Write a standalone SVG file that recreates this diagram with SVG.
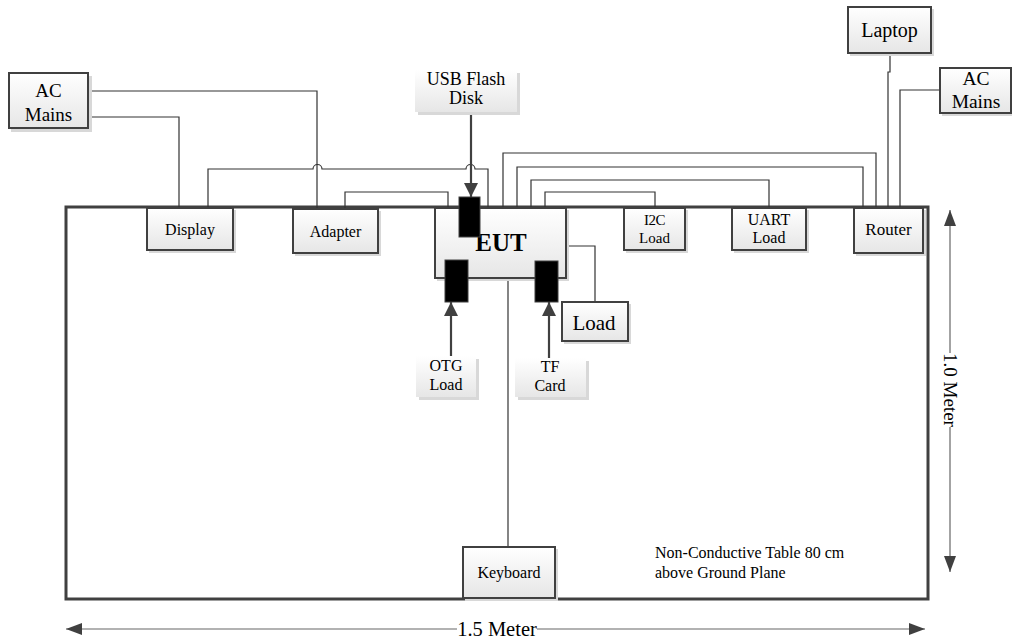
<svg xmlns="http://www.w3.org/2000/svg" width="1012" height="639" viewBox="0 0 1012 639" font-family="'Liberation Serif', 'Times New Roman', 'DejaVu Serif', serif">
<defs>
<linearGradient id="g" x1="0" y1="0" x2="0" y2="1">
<stop offset="0" stop-color="#ffffff"/>
<stop offset="1" stop-color="#e6e6e6"/>
</linearGradient>
<marker id="ah" viewBox="0 0 10 10" refX="10" refY="5" markerWidth="14" markerHeight="14" markerUnits="userSpaceOnUse" orient="auto">
<path d="M0,0 L10,5 L0,10 z" fill="#404040"/>
</marker>
<marker id="dh" viewBox="0 0 10 10" refX="10" refY="5" markerWidth="16" markerHeight="12" markerUnits="userSpaceOnUse" orient="auto-start-reverse" preserveAspectRatio="none">
<path d="M0,0 L10,5 L0,10 z" fill="#404040"/>
</marker>
</defs>
<style>
text{font-family:'Liberation Serif','Times New Roman','DejaVu Serif',serif;fill:#000}
.box{fill:url(#g);stroke:#404040;stroke-width:2}
.sbox{fill:url(#g);stroke:none}
.sh{fill:#d8d8d8;stroke:none}
.w{fill:none;stroke:#333;stroke-width:1.2}
.arr{fill:none;stroke:#404040;stroke-width:2.2}
.dim{fill:none;stroke:#666;stroke-width:1.2}
.blk{fill:#000;stroke:#404040;stroke-width:1}
</style>
<rect id="table" x="66" y="207" width="862" height="392" fill="#fff" stroke="#404040" stroke-width="3"/>
<text x="655" y="558" font-size="16">Non-Conductive Table 80 cm</text>
<text x="655" y="578" font-size="16">above Ground Plane</text>

<g id="connectors">
<polyline class="w" points="88,91 317,91 317,208"/>
<polyline class="w" points="88,117 179,117 179,208"/>
<path class="w" d="M208,208 V169 H313 A4.5,4.5 0 0 1 322,169 H466 A4.5,4.5 0 0 1 475,169 H488 V208"/>
<polyline class="w" points="345,208 345,192 448,192 448,208"/>
<polyline class="w" points="503,208 503,153 876,153 876,208"/>
<polyline class="w" points="517,208 517,167 863,167 863,208"/>
<polyline class="w" points="531,208 531,180 769,180 769,208"/>
<polyline class="w" points="545,208 545,192 655,192 655,208"/>
<polyline class="w" points="890,53 890,72 888,72 888,208"/>
<polyline class="w" points="940,90 900,90 900,208"/>
<polyline class="w" points="566,246 595,246 595,302"/>
<line class="w" x1="508" y1="278" x2="508" y2="547"/>
<line class="arr" x1="471" y1="112" x2="471" y2="197" marker-end="url(#ah)"/>
<line class="arr" x1="451" y1="356" x2="451" y2="302" marker-end="url(#ah)"/>
<line class="arr" x1="549" y1="358" x2="549" y2="302" marker-end="url(#ah)"/>
</g>

<g id="dim-horizontal">
<line class="dim" x1="66" y1="629" x2="457" y2="629" marker-start="url(#dh)"/>
<line class="dim" x1="537" y1="629" x2="925" y2="629" marker-end="url(#dh)"/>
<text x="497" y="636" font-size="20.5" text-anchor="middle">1.5 Meter</text>
</g>
<g id="dim-vertical">
<line class="dim" x1="950" y1="210" x2="950" y2="353" marker-start="url(#dh)"/>
<line class="dim" x1="950" y1="427" x2="950" y2="572" marker-end="url(#dh)"/>
<text x="0" y="0" font-size="19" text-anchor="middle" transform="translate(944,390) rotate(90)">1.0 Meter</text>
</g>

<g id="ac-mains-left">
<rect class="sh" x="11" y="76" width="81" height="56"/>
<rect class="box" x="9" y="73" width="79" height="55"/>
<text x="48.5" y="97" font-size="19" text-anchor="middle">AC</text>
<text x="48.5" y="121" font-size="19" text-anchor="middle">Mains</text>
</g>
<g id="display">
<rect class="sh" x="149" y="210" width="87" height="43"/>
<rect class="box" x="147" y="208" width="86" height="42"/>
<text x="190" y="235" font-size="16" text-anchor="middle">Display</text>
</g>
<g id="adapter">
<rect class="sh" x="295" y="211" width="86" height="45"/>
<rect class="box" x="293" y="209" width="85" height="44"/>
<text x="335.5" y="237" font-size="16" text-anchor="middle">Adapter</text>
</g>
<g id="usb-flash-disk">
<rect class="sh" x="418" y="73" width="102" height="42"/>
<rect class="sbox" x="415" y="70" width="102" height="42"/>
<text x="466" y="85" font-size="18" text-anchor="middle">USB Flash</text>
<text x="466" y="104" font-size="18" text-anchor="middle">Disk</text>
</g>
<g id="eut">
<rect class="sh" x="437" y="210" width="132" height="71"/>
<rect class="box" x="435" y="208" width="131" height="70"/>
<text x="501" y="251" font-size="25" font-weight="bold" text-anchor="middle">EUT</text>
<rect class="blk" x="459" y="197" width="21" height="40"/>
<rect class="blk" x="445" y="260" width="23" height="42"/>
<rect class="blk" x="535" y="261" width="23" height="41"/>
</g>
<g id="i2c-load">
<rect class="sh" x="626" y="210" width="62" height="43"/>
<rect class="box" x="624" y="208" width="61" height="42"/>
<text x="654.5" y="225" font-size="15" text-anchor="middle" letter-spacing="-0.5">I2C</text>
<text x="654.5" y="243" font-size="15" text-anchor="middle">Load</text>
</g>
<g id="uart-load">
<rect class="sh" x="734" y="210" width="75" height="43"/>
<rect class="box" x="732" y="208" width="74" height="42"/>
<text x="769" y="225" font-size="16" text-anchor="middle">UART</text>
<text x="769" y="243" font-size="16" text-anchor="middle">Load</text>
</g>
<g id="router">
<rect class="sh" x="856" y="210" width="70" height="46"/>
<rect class="box" x="854" y="208" width="69" height="45"/>
<text x="888.5" y="235" font-size="17" text-anchor="middle">Router</text>
</g>
<g id="laptop">
<rect class="sh" x="850" y="9" width="84" height="47"/>
<rect class="box" x="848" y="7" width="83" height="46"/>
<text x="889.5" y="37" font-size="20" text-anchor="middle">Laptop</text>
</g>
<g id="ac-mains-right">
<rect class="sh" x="942" y="70" width="72" height="46"/>
<rect class="box" x="940" y="68" width="71" height="45"/>
<text x="976" y="85" font-size="19.5" text-anchor="middle">AC</text>
<text x="976" y="108" font-size="19.5" text-anchor="middle">Mains</text>
</g>
<g id="load">
<rect class="sh" x="564" y="304" width="67" height="40"/>
<rect class="box" x="562" y="302" width="66" height="39"/>
<text x="594" y="330" font-size="21" text-anchor="middle">Load</text>
</g>
<g id="otg-load">
<rect class="sh" x="419" y="359" width="60" height="41"/>
<rect class="sbox" x="416" y="356" width="60" height="41"/>
<text x="446" y="371" font-size="16" text-anchor="middle">OTG</text>
<text x="446" y="390" font-size="16" text-anchor="middle">Load</text>
</g>
<g id="tf-card">
<rect class="sh" x="518" y="361" width="71" height="39"/>
<rect class="sbox" x="515" y="358" width="71" height="39"/>
<text x="550" y="372" font-size="16" text-anchor="middle">TF</text>
<text x="550" y="391" font-size="16" text-anchor="middle">Card</text>
</g>
<g id="keyboard">
<rect class="sh" x="465" y="549" width="93" height="52"/>
<rect class="box" x="463" y="547" width="92" height="51"/>
<text x="509" y="578" font-size="16" text-anchor="middle">Keyboard</text>
</g>
</svg>
